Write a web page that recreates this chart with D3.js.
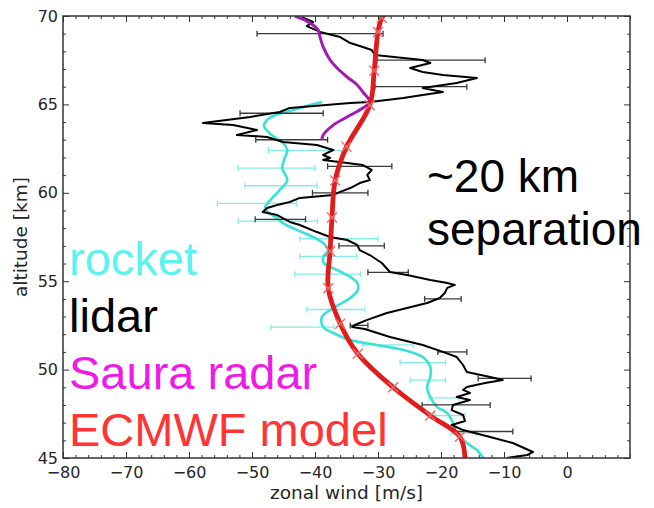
<!DOCTYPE html>
<html>
<head>
<meta charset="utf-8">
<script src="https://cdn.jsdelivr.net/npm/d3@7"></script>
<style>
  html, body { margin: 0; padding: 0; background: #fff; }
  svg { display: block; }
</style>
</head>
<body>
<svg id="chart" width="654" height="508"></svg>
<script>
// ---- Lidar profile (altitude km, zonal wind m/s)
const lidarAlt = [69.94, 69.66, 69.43, 69.10, 68.81, 68.47, 68.25, 68.08, 67.79, 67.51,
  67.34, 67.06, 66.83, 66.66, 66.49, 66.21, 65.93, 65.70, 65.53, 65.36,
  65.14, 65.08, 64.80, 64.57, 64.29, 63.95, 63.83, 63.55, 63.27, 63.16,
  62.87, 62.70, 62.42, 62.14, 61.97, 61.86, 61.69, 61.57, 61.29, 61.01,
  60.72, 60.55, 60.27, 60.05, 59.88, 59.71, 59.48, 59.31, 59.14, 58.91,
  58.74, 58.35, 58.18, 57.78, 57.50, 57.33, 57.05, 56.76, 56.48, 56.03,
  55.52, 55.35, 55.07, 54.90, 54.79, 54.62, 54.33, 54.05, 53.77, 53.48,
  53.20, 52.81, 52.52, 52.41, 52.30, 51.84, 51.39, 51.00, 50.71, 50.26,
  49.86, 49.58, 49.41, 49.24, 49.02, 48.85, 48.68, 48.45, 48.28, 48.00,
  47.71, 47.43, 47.09, 46.87, 46.58, 46.19, 45.85, 45.34, 45.17, 45.00];
const lidarWind = [-42.1, -40.3, -41.3, -39.2, -36.0, -34.4, -32.4, -31.0, -30.5, -22.9,
  -21.7, -24.9, -22.9, -19.7, -14.3, -17.5, -22.9, -19.7, -22.9, -26.0,
  -31.3, -34.4, -44.0, -45.6, -50.3, -57.8, -53.0, -49.2, -52.4, -47.6,
  -45.1, -39.7, -37.1, -38.7, -37.6, -38.7, -34.9, -32.4, -31.0, -31.7,
  -31.3, -32.9, -34.4, -36.0, -37.1, -42.4, -44.0, -46.0, -47.6, -48.3,
  -46.0, -44.0, -42.4, -39.7, -37.6, -34.9, -33.3, -32.9, -31.3, -29.4,
  -28.1, -25.4, -21.7, -19.0, -17.8, -19.0, -19.4, -20.2, -22.2, -25.4,
  -28.6, -31.7, -33.7, -34.1, -32.1, -28.1, -22.9, -19.7, -17.5, -16.5,
  -15.9, -12.2, -10.2, -13.0, -15.9, -16.5, -15.4, -17.5, -15.4, -18.1,
  -18.3, -16.5, -16.2, -18.3, -16.5, -12.2, -8.6, -5.4, -6.3, -9.5];

// Lidar uncertainty bars
const lidarErrAlt = [69.0, 67.5, 66.0, 64.5, 63.0, 61.5, 60.0, 58.5, 57.0, 55.5, 54.0, 52.5, 51.0, 49.5, 48.0, 46.5];
const lidarErrMid = [-39.2, -21.6, -23.2, -45.3, -43.7, -32.9, -36.0, -45.5, -32.6, -28.4, -19.7, -33.0, -18.2, -9.9, -17.6, -13.2];
const lidarErrHalf = [10.0, 8.6, 7.3, 6.6, 5.7, 5.1, 4.4, 4.0, 3.6, 3.2, 2.9, 1.4, 2.3, 4.2, 5.4, 4.6];

// ---- Rocket profile
const rocketAlt = [65.14, 64.91, 64.68, 64.40, 64.12, 63.78, 63.33, 62.82, 62.42, 61.97,
  61.40, 60.72, 60.16, 59.59, 59.20, 58.91, 58.63, 58.29, 57.90, 57.50,
  57.16, 56.76, 56.37, 56.03, 55.63, 55.24, 54.90, 54.50, 54.05, 53.48,
  52.98, 52.41, 52.07, 51.67, 51.39, 51.11, 50.71, 50.15, 49.58, 49.02,
  48.45, 47.88, 47.54, 46.98, 46.41, 45.85, 45.45, 45.00];
const rocketWind = [-38.9, -41.3, -43.5, -46.3, -47.6, -48.1, -47.1, -45.1, -44.4, -44.8,
  -45.2, -44.4, -45.6, -47.1, -47.9, -47.5, -46.3, -45.1, -42.9, -40.3,
  -38.7, -37.9, -38.7, -38.6, -36.5, -34.4, -33.3, -33.2, -34.4, -37.1,
  -38.9, -38.7, -37.1, -34.4, -30.2, -26.0, -22.9, -21.7, -21.7, -22.2,
  -21.7, -20.6, -19.0, -18.1, -17.5, -15.9, -14.3, -13.3];

// Rocket uncertainty bars
const rocketErrAlt = [62.4, 61.4, 60.4, 59.4, 58.4, 57.4, 56.4, 55.4, 53.4, 52.4, 51.4, 50.4, 49.4, 48.4, 47.4, 46.4];
const rocketErrMid = [-41.1, -46.1, -45.4, -49.2, -45.9, -36.2, -37.9, -38.0, -36.7, -42.0, -28.4, -22.9, -22.1, -19.5, -18.6, -16.4];
const rocketErrHalf = [6.3, 6.1, 5.7, 6.3, 6.3, 6.2, 4.5, 5.2, 4.6, 5.0, 4.0, 3.6, 2.8, 2.4, 2.4, 2.0];

// ---- Saura MF radar
const radarAlt = [70.00, 69.77, 69.49, 69.21, 68.81, 68.25, 67.51, 67.06, 66.55, 66.10, 65.70, 65.14, 64.80, 64.29, 63.83, 63.27, 62.99];
const radarWind = [-43.2, -41.6, -40.3, -39.5, -39.2, -38.7, -37.6, -36.5, -34.9, -33.3, -32.4, -31.3, -32.4, -34.9, -37.1, -38.7, -38.9];

// ---- ECMWF model levels
const modelAlt = [70.0, 69.9, 69.1, 66.9, 64.95, 62.6, 60.7, 58.6, 56.7, 54.6, 52.6, 50.9, 49.0, 47.4, 46.2, 45.0];
const modelWind = [-29.2, -29.4, -30.0, -30.6, -31.3, -35.0, -36.8, -37.3, -37.6, -37.9, -36.0, -33.2, -27.6, -21.7, -17.0, -16.2];

// ---- Axes
const xTicks = [-80, -70, -60, -50, -40, -30, -20, -10, 0];
const yTicks = [45, 50, 55, 60, 65, 70];

const legendLabels = ["rocket", "lidar", "Saura radar", "ECMWF model"];
const legendColors = ["#5cf2ee", "#000000", "#f01ae6", "#ff3535"];
const noteLines = ["~20 km", "separation"];

(function draw() {
  const svg = d3.select("#chart");
  const left = 63, right = 630, topY = 16, bottom = 458;

  const x = d3.scaleLinear().domain([-80, 10]).range([left, right]);
  const y = d3.scaleLinear().domain([45, 70]).range([bottom, topY]);

  const tickFont = "'DejaVu Sans', sans-serif";
  const minus = v => (v < 0 ? "\u2212" + Math.abs(v) : String(v));

  svg.append("defs").append("clipPath").attr("id", "plotClip")
    .append("rect").attr("x", left).attr("y", topY)
    .attr("width", right - left).attr("height", bottom - topY);

  // minor ticks
  const xMinor = d3.range(-80, 10.01, 2).filter(v => !xTicks.includes(v));
  const yMinor = d3.range(45, 70.01, 1).filter(v => !yTicks.includes(v));

  function styleAxis(g) {
    g.select(".domain").remove();
    g.selectAll(".tick line").attr("stroke", "#333").attr("stroke-width", 1);
    g.selectAll(".tick text").attr("fill", "#262626")
      .style("font-family", tickFont).style("font-size", "16px");
  }

  // bottom
  svg.append("g").attr("transform", `translate(0,${bottom})`)
    .call(d3.axisBottom(x).tickValues(xTicks).tickSize(-6).tickPadding(9).tickFormat(minus))
    .call(styleAxis);
  svg.append("g").attr("transform", `translate(0,${bottom})`)
    .call(d3.axisBottom(x).tickValues(xMinor).tickSize(-3).tickFormat(""))
    .call(styleAxis);
  // top
  svg.append("g").attr("transform", `translate(0,${topY})`)
    .call(d3.axisTop(x).tickValues(xTicks).tickSize(-6).tickFormat(""))
    .call(styleAxis);
  svg.append("g").attr("transform", `translate(0,${topY})`)
    .call(d3.axisTop(x).tickValues(xMinor).tickSize(-3).tickFormat(""))
    .call(styleAxis);
  // left
  svg.append("g").attr("transform", `translate(${left},0)`)
    .call(d3.axisLeft(y).tickValues(yTicks).tickSize(-6).tickPadding(5).tickFormat(d3.format("d")))
    .call(styleAxis);
  svg.append("g").attr("transform", `translate(${left},0)`)
    .call(d3.axisLeft(y).tickValues(yMinor).tickSize(-3).tickFormat(""))
    .call(styleAxis);
  // right
  svg.append("g").attr("transform", `translate(${right},0)`)
    .call(d3.axisRight(y).tickValues(yTicks).tickSize(-6).tickFormat(""))
    .call(styleAxis);
  svg.append("g").attr("transform", `translate(${right},0)`)
    .call(d3.axisRight(y).tickValues(yMinor).tickSize(-3).tickFormat(""))
    .call(styleAxis);

  // axis titles
  svg.append("text").attr("x", (left + right) / 2).attr("y", 499)
    .attr("text-anchor", "middle").attr("fill", "#262626")
    .style("font-family", tickFont).style("font-size", "18.5px")
    .text("zonal wind [m/s]");
  svg.append("text")
    .attr("transform", `translate(27,${(topY + bottom) / 2}) rotate(-90)`)
    .attr("text-anchor", "middle").attr("fill", "#262626")
    .style("font-family", tickFont).style("font-size", "18.5px")
    .text("altitude [km]");

  const plot = svg.append("g").attr("clip-path", "url(#plotClip)");

  function errorBars(alts, mids, halves, color, width) {
    const g = plot.append("g").attr("stroke", color).attr("stroke-width", width).attr("fill", "none");
    alts.forEach((a, i) => {
      const yy = y(a), x0 = x(mids[i] - halves[i]), x1 = x(mids[i] + halves[i]);
      g.append("line").attr("x1", x0).attr("x2", x1).attr("y1", yy).attr("y2", yy);
      g.append("line").attr("x1", x0).attr("x2", x0).attr("y1", yy - 3).attr("y2", yy + 3);
      g.append("line").attr("x1", x1).attr("x2", x1).attr("y1", yy - 3).attr("y2", yy + 3);
    });
  }

  const profile = d3.line().x(d => x(d[1])).y(d => y(d[0]));
  const smooth = d3.line().x(d => x(d[1])).y(d => y(d[0])).curve(d3.curveCatmullRom.alpha(0.5));

  // rocket
  errorBars(rocketErrAlt, rocketErrMid, rocketErrHalf, "#86ece6", 1.3);
  plot.append("path").datum(d3.zip(rocketAlt, rocketWind))
    .attr("d", smooth).attr("fill", "none")
    .attr("stroke", "#38e2d6").attr("stroke-width", 2.6).attr("stroke-linejoin", "round");

  // lidar
  errorBars(lidarErrAlt, lidarErrMid, lidarErrHalf, "#3a3a3a", 1.3);
  plot.append("path").datum(d3.zip(lidarAlt, lidarWind))
    .attr("d", profile).attr("fill", "none")
    .attr("stroke", "#000").attr("stroke-width", 2).attr("stroke-linejoin", "round");

  // radar
  plot.append("path").datum(d3.zip(radarAlt, radarWind))
    .attr("d", smooth).attr("fill", "none")
    .attr("stroke", "#a41ab4").attr("stroke-width", 3).attr("stroke-linejoin", "round");

  // ECMWF
  const modelPts = d3.zip(modelAlt, modelWind);
  plot.append("path").datum(modelPts)
    .attr("d", smooth).attr("fill", "none")
    .attr("stroke", "#e01c1c").attr("stroke-width", 4.8).attr("stroke-linecap", "round");
  const mk = plot.append("g").attr("stroke", "#ef6a6a").attr("stroke-width", 1.4);
  modelPts.filter(d => d[0] > 45.05 && d[0] < 69.95).forEach(d => {
    const cx = x(d[1]), cy = y(d[0]), s = 5;
    mk.append("line").attr("x1", cx - s).attr("y1", cy - s).attr("x2", cx + s).attr("y2", cy + s);
    mk.append("line").attr("x1", cx - s).attr("y1", cy + s).attr("x2", cx + s).attr("y2", cy - s);
  });

  // frame
  svg.append("rect").attr("x", left).attr("y", topY)
    .attr("width", right - left).attr("height", bottom - topY)
    .attr("fill", "none").attr("stroke", "#333").attr("stroke-width", 1.5);

  // legend
  const legendBase = [275, 332, 389, 446];
  legendLabels.forEach((t, i) => {
    svg.append("text").attr("x", 69).attr("y", legendBase[i])
      .attr("fill", legendColors[i])
      .style("font-family", "'Liberation Sans', Arial, sans-serif").style("font-size", "47px")
      .text(t);
  });

  // annotation
  const noteBase = [192, 245];
  noteLines.forEach((t, i) => {
    svg.append("text").attr("x", 427).attr("y", noteBase[i])
      .attr("fill", "#000")
      .style("font-family", "'Liberation Sans', Arial, sans-serif").style("font-size", "46px")
      .text(t);
  });
})();
</script>
</body>
</html>
